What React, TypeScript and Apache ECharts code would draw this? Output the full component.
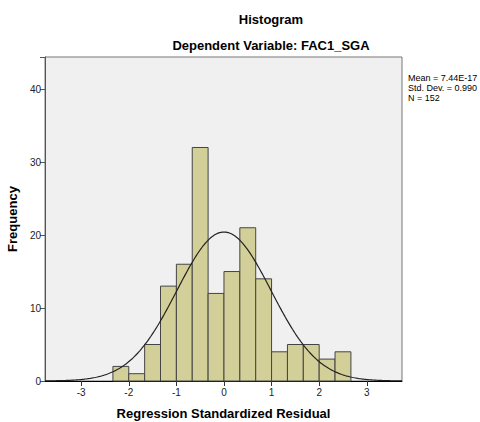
import React, { useEffect, useRef } from "react";
import * as echarts from "echarts";

const binStarts = [-2.3333, -2, -1.6667, -1.3333, -1, -0.6667, -0.3333, 0, 0.3333, 0.6667, 1, 1.3333, 1.6667, 2, 2.3333];
const binWidth = 1 / 3;
const counts = [2, 1, 5, 13, 16, 32, 12, 15, 21, 14, 4, 5, 5, 3, 4];
const xTicks = [-3, -2, -1, 0, 1, 2, 3];
const yTicks = [0, 10, 20, 30, 40];
const mean = 7.44e-17;
const sd = 0.99;
const n = 152;
const statsLines = ["Mean = 7.44E-17", "Std. Dev. = 0.990", "N = 152"];

const X_MIN = -3.76;
const X_MAX = 3.74;

export default function App() {
  const ref = useRef<HTMLDivElement>(null);
  useEffect(() => {
    if (!ref.current) return;
    const chart = echarts.init(ref.current, undefined, { renderer: "svg" });
    const curve: number[][] = [];
    const steps = 300;
    for (let i = 0; i <= steps; i++) {
      const x = X_MIN + ((X_MAX - X_MIN) * i) / steps;
      const z = (x - mean) / sd;
      const y = (n * binWidth) / (sd * Math.sqrt(2 * Math.PI)) * Math.exp(-0.5 * z * z);
      curve.push([x, y]);
    }
    const barData = binStarts.map((s, i) => [s, s + binWidth, counts[i]]);
    const font = "'Liberation Sans', Arial, sans-serif";
    chart.setOption({
      animation: false,
      backgroundColor: "#ffffff",
      textStyle: { fontFamily: font },
      title: [
        {
          text: "Histogram",
          left: 266,
          top: 8,
          textAlign: "center",
          textStyle: { fontFamily: font, fontSize: 13, fontWeight: "bold", color: "#000" },
        },
        {
          text: "Dependent Variable: FAC1_SGA",
          left: 266,
          top: 34,
          textAlign: "center",
          textStyle: { fontFamily: font, fontSize: 13, fontWeight: "bold", color: "#000" },
        },
      ],
      grid: {
        left: 45,
        top: 57,
        right: 78,
        bottom: 41,
        containLabel: false,
        outerBoundsMode: "none",
        show: true,
        backgroundColor: "#f0f0f0",
        borderColor: "#777",
        borderWidth: 1,
      },
      xAxis: {
        type: "value",
        min: X_MIN,
        max: X_MAX,
        name: "Regression Standardized Residual",
        nameLocation: "middle",
        nameGap: 26,
        nameTextStyle: { fontFamily: font, fontSize: 13, fontWeight: "bold", color: "#000" },
        splitLine: { show: false },
        axisLine: { show: true, onZero: false, lineStyle: { color: "#000", width: 1 } },
        axisTick: { show: true, customValues: xTicks, length: 5, lineStyle: { color: "#333" } },
        axisLabel: { customValues: xTicks, fontSize: 10, color: "#222", margin: 6, fontFamily: font },
      },
      yAxis: {
        type: "value",
        min: 0,
        max: 44.4,
        interval: 10,
        name: "Frequency",
        nameLocation: "middle",
        nameGap: 24,
        nameTextStyle: { fontFamily: font, fontSize: 13, fontWeight: "bold", color: "#000" },
        splitLine: { show: false },
        axisLine: { show: true, onZero: false, lineStyle: { color: "#555", width: 1 } },
        axisTick: { show: true, length: 5, lineStyle: { color: "#555" } },
        axisLabel: {
          fontSize: 10,
          color: "#222",
          margin: 4,
          fontFamily: font,
          formatter: (v: number) => (yTicks.includes(v) ? String(v) : ""),
        },
      },
      graphic: [
        {
          type: "text",
          left: 408,
          top: 73,
          style: {
            text: statsLines.join("\n"),
            fontSize: 9,
            lineHeight: 10,
            fill: "#000",
            fontFamily: font,
          },
        },
      ],
      series: [
        {
          type: "custom",
          data: barData,
          encode: { x: [0, 1], y: 2 },
          renderItem: (params: any, api: any) => {
            const s = api.value(0);
            const e = api.value(1);
            const c = api.value(2);
            const p0 = api.coord([s, 0]);
            const p1 = api.coord([e, c]);
            return {
              type: "rect",
              shape: { x: p0[0], y: p1[1], width: p1[0] - p0[0], height: p0[1] - p1[1] },
              style: { fill: "#d3cf99", stroke: "#444", lineWidth: 1 },
            };
          },
          z: 2,
        },
        {
          type: "line",
          data: curve,
          showSymbol: false,
          symbol: "none",
          smooth: false,
          lineStyle: { color: "#222", width: 1.2 },
          clip: true,
          z: 3,
        },
      ],
    });
    return () => chart.dispose();
  }, []);
  return <div ref={ref} style={{ position: "fixed", left: 0, top: 0, width: 480, height: 422 }} />;
}
